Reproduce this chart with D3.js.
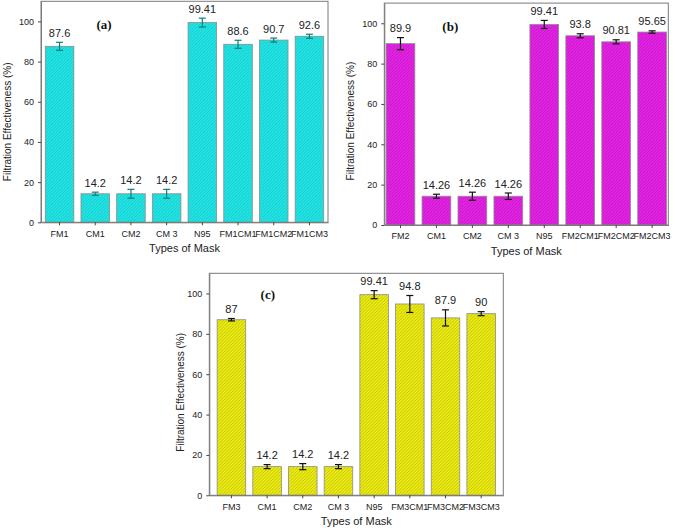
<!DOCTYPE html>
<html>
<head>
<meta charset="utf-8">
<script src="https://cdn.jsdelivr.net/npm/d3@7"></script>
<style>
  html, body { margin: 0; padding: 0; background: #fff; }
  svg { display: block; font-family: "Liberation Sans", Arial, sans-serif; }
</style>
</head>
<body>
<svg id="chart" width="675" height="528"></svg>
<script>
// ---- data ----
const yTicks = [0, 20, 40, 60, 80, 100];
const yAxisTitle = "Filtration Effectiveness (%)";
const xAxisTitle = "Types of Mask";

const categoriesA = ["FM1", "CM1", "CM2", "CM 3", "N95", "FM1CM1", "FM1CM2", "FM1CM3"];
const valuesA = [87.6, 14.2, 14.2, 14.2, 99.41, 88.6, 90.7, 92.6];
const errorsA = [2, 0.8, 2.2, 2.2, 2.2, 2, 1, 1];
const labelsA = ["87.6", "14.2", "14.2", "14.2", "99.41", "88.6", "90.7", "92.6"];

const categoriesB = ["FM2", "CM1", "CM2", "CM 3", "N95", "FM2CM1", "FM2CM2", "FM2CM3"];
const valuesB = [89.9, 14.26, 14.26, 14.26, 99.41, 93.8, 90.81, 95.65];
const errorsB = [3, 1, 2, 1.6, 2, 1, 1, 0.6];
const labelsB = ["89.9", "14.26", "14.26", "14.26", "99.41", "93.8", "90.81", "95.65"];

const categoriesC = ["FM3", "CM1", "CM2", "CM 3", "N95", "FM3CM1", "FM3CM2", "FM3CM3"];
const valuesC = [87, 14.2, 14.2, 14.2, 99.41, 94.8, 87.9, 90];
const errorsC = [0.6, 1, 1.5, 1, 2, 4.2, 4, 1];
const labelsC = ["87", "14.2", "14.2", "14.2", "99.41", "94.8", "87.9", "90"];

// ---- layout / style per panel ----
const panels = [
  { tag: "(a)", cats: categoriesA, vals: valuesA, errs: errorsA, labels: labelsA,
    left: 41, right: 328, top: 1.3, bottom: 222.3, outer: 0.12,
    fill: "#22e4e4", hatch: "#0fb4b4", err: "#0a7f7f",
    tagX: 63, tagY: 27.5, titleOff: 33.5, titleShift: 10 },
  { tag: "(b)", cats: categoriesB, vals: valuesB, errs: errorsB, labels: labelsB,
    left: 384.3, right: 668.3, top: 3.1, bottom: 225, outer: 0.05,
    fill: "#e424e4", hatch: "#a90fa9", err: "#111",
    tagX: 66, tagY: 28, titleOff: 34, titleShift: 7 },
  { tag: "(c)", cats: categoriesC, vals: valuesC, errs: errorsC, labels: labelsC,
    left: 209.3, right: 503.3, top: 273.3, bottom: 495.3, outer: 0.22,
    fill: "#ecec14", hatch: "#a3a300", err: "#111",
    tagX: 58.5, tagY: 25.5, titleOff: 29, titleShift: 8 }
];

const svg = d3.select("#chart");
const defs = svg.append("defs");
const frameColor = "#7a7a7a";
const textColor = "#222";

panels.forEach((p, i) => {
  const pid = "hatch" + i;
  const pat = defs.append("pattern")
    .attr("id", pid)
    .attr("patternUnits", "userSpaceOnUse")
    .attr("width", 3.2).attr("height", 3.2);
  pat.append("rect").attr("width", 3.2).attr("height", 3.2).attr("fill", p.fill);
  pat.append("path")
    .attr("d", "M-0.8,0.8 L0.8,-0.8 M0,3.2 L3.2,0 M2.4,4 L4,2.4")
    .attr("stroke", p.hatch).attr("stroke-width", 0.55).attr("fill", "none");

  const x = d3.scaleBand().domain(p.cats).range([p.left, p.right])
    .paddingInner(0.2).paddingOuter(p.outer);
  const y = d3.scaleLinear().domain([0, 110]).range([p.bottom, p.top]);

  const g = svg.append("g");

  // bars
  g.selectAll("rect.bar").data(p.cats).join("rect")
    .attr("class", "bar")
    .attr("x", d => x(d))
    .attr("width", x.bandwidth())
    .attr("y", (d, j) => y(p.vals[j]))
    .attr("height", (d, j) => y(0) - y(p.vals[j]))
    .attr("fill", `url(#${pid})`)
    .attr("stroke", "#8c8c8c").attr("stroke-width", 0.8);

  // error bars
  const eg = g.selectAll("g.err").data(p.cats).join("g").attr("class", "err")
    .attr("stroke", p.err).attr("stroke-width", 1.2).attr("fill", "none");
  const cx = d => x(d) + x.bandwidth() / 2;
  eg.append("line")
    .attr("x1", cx).attr("x2", cx)
    .attr("y1", (d, j) => y(p.vals[j] + p.errs[j]))
    .attr("y2", (d, j) => y(p.vals[j] - p.errs[j]));
  eg.append("line")
    .attr("x1", d => cx(d) - 3.5).attr("x2", d => cx(d) + 3.5)
    .attr("y1", (d, j) => y(p.vals[j] + p.errs[j]))
    .attr("y2", (d, j) => y(p.vals[j] + p.errs[j]));
  eg.append("line")
    .attr("x1", d => cx(d) - 3.5).attr("x2", d => cx(d) + 3.5)
    .attr("y1", (d, j) => y(p.vals[j] - p.errs[j]))
    .attr("y2", (d, j) => y(p.vals[j] - p.errs[j]));

  // value labels
  g.selectAll("text.val").data(p.cats).join("text")
    .attr("class", "val")
    .attr("x", cx)
    .attr("y", (d, j) => y(p.vals[j] + p.errs[j]) - 5.5)
    .attr("text-anchor", "middle")
    .attr("font-size", 11)
    .attr("fill", textColor)
    .text((d, j) => p.labels[j]);

  // frame
  g.append("rect")
    .attr("x", p.left).attr("y", p.top)
    .attr("width", p.right - p.left).attr("height", p.bottom - p.top)
    .attr("fill", "none").attr("stroke", frameColor).attr("stroke-width", 1);

  // axes
  const ax = g.append("g").attr("transform", `translate(0,${p.bottom})`)
    .call(d3.axisBottom(x).tickSize(3).tickPadding(5).tickSizeOuter(0));
  const ay = g.append("g").attr("transform", `translate(${p.left},0)`)
    .call(d3.axisLeft(y).tickValues(yTicks).tickSize(3).tickPadding(4).tickSizeOuter(0));
  [ax, ay].forEach(a => {
    a.select(".domain").attr("stroke", frameColor);
    a.selectAll(".tick line").attr("stroke", "#444");
    a.selectAll(".tick text").attr("fill", textColor)
      .attr("font-size", 9).attr("font-family", "Liberation Sans, Arial, sans-serif");
  });

  // axis titles
  g.append("text")
    .attr("x", (p.left + p.right) / 2).attr("y", p.bottom + 30)
    .attr("text-anchor", "middle").attr("font-size", 11).attr("fill", textColor)
    .text(xAxisTitle);
  g.append("text")
    .attr("transform", `translate(${p.left - p.titleOff},${(p.top + p.bottom) / 2 + p.titleShift}) rotate(-90)`)
    .attr("text-anchor", "middle").attr("dominant-baseline", "central")
    .attr("font-size", 10).attr("fill", textColor)
    .text(yAxisTitle);

  // panel tag
  g.append("text")
    .attr("x", p.left + p.tagX).attr("y", p.top + p.tagY)
    .attr("text-anchor", "middle")
    .attr("font-family", "Liberation Serif, Times New Roman, serif")
    .attr("font-weight", "bold").attr("font-size", 13).attr("fill", "#111")
    .text(p.tag);
});
</script>
</body>
</html>
